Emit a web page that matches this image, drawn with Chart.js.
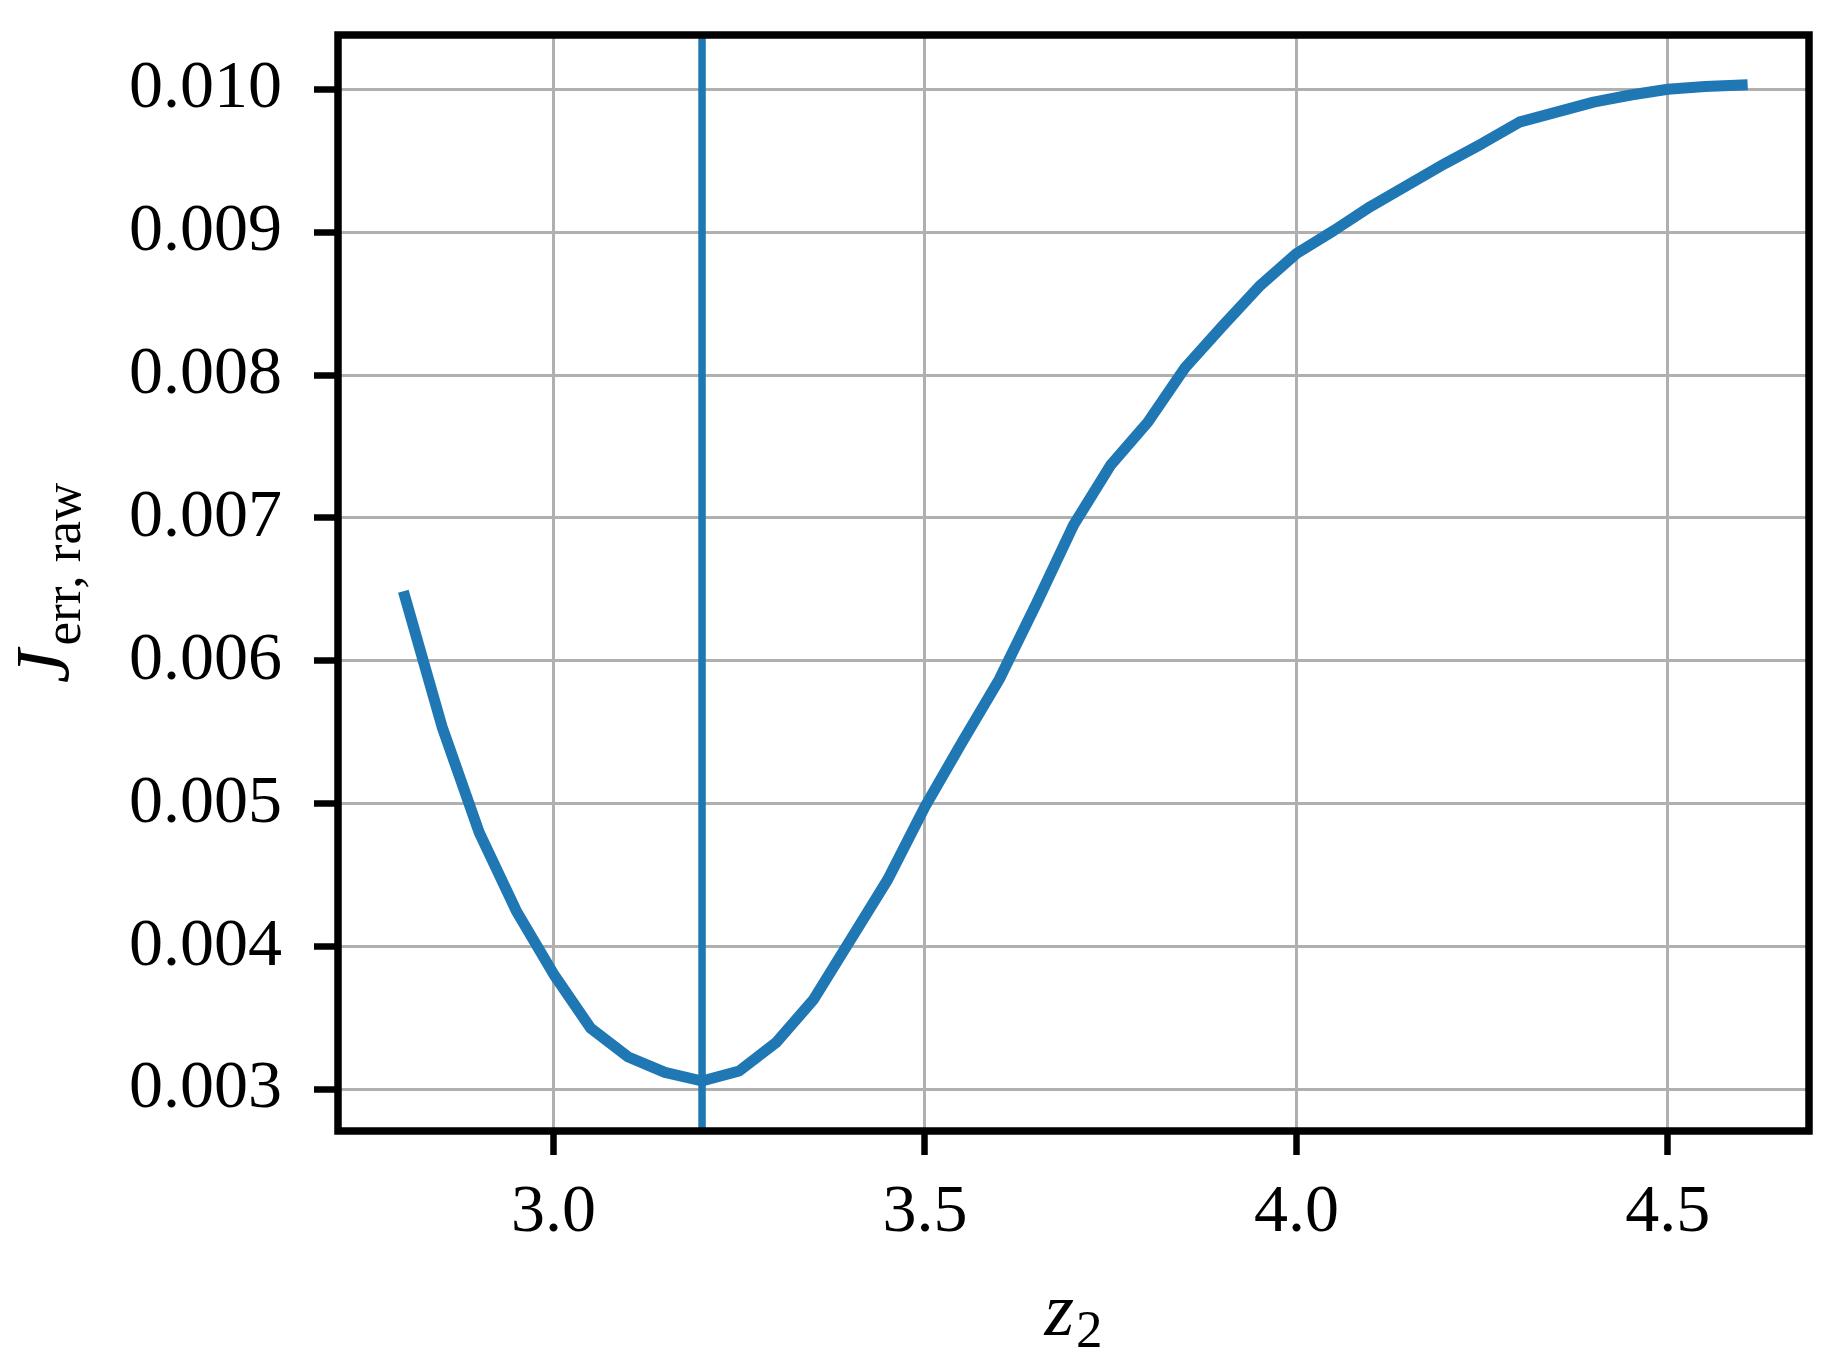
<!DOCTYPE html>
<html>
<head>
<meta charset="utf-8">
<script src="https://cdn.jsdelivr.net/npm/chart.js@4.4.1/dist/chart.umd.min.js"></script>
<style>
  html, body { margin: 0; padding: 0; background: #ffffff; overflow: hidden; }
  canvas { display: block; }
</style>
</head>
<body>
<canvas id="chart" width="1842" height="1360"></canvas>
<script>
// ---- data ----
const z2Values = [2.80, 2.85, 2.90, 2.95, 3.00, 3.05, 3.10, 3.15, 3.20, 3.25,
                  3.30, 3.35, 3.40, 3.45, 3.50, 3.55, 3.60, 3.65, 3.70, 3.75,
                  3.80, 3.85, 3.90, 3.95, 4.00, 4.05, 4.10, 4.15, 4.20, 4.25,
                  4.30, 4.35, 4.40, 4.45, 4.50, 4.55, 4.60];
const jErrRaw = [0.00645, 0.00554, 0.00480, 0.00425, 0.00381, 0.00343, 0.00323, 0.00312, 0.00306, 0.00313,
                 0.00333, 0.00363, 0.00405, 0.00447, 0.00498, 0.00543, 0.00587, 0.00640, 0.00695, 0.00737,
                 0.00767, 0.00805, 0.00834, 0.00862, 0.00885, 0.00901, 0.00918, 0.00933, 0.00948, 0.00962,
                 0.00977, 0.00984, 0.00991, 0.00996, 0.01000, 0.01002, 0.01003];
const minimumZ2 = 3.2;
const xTickValues = [3.0, 3.5, 4.0, 4.5];
const yTickValues = [0.003, 0.004, 0.005, 0.006, 0.007, 0.008, 0.009, 0.010];
const xTitleMain = 'z', xTitleSub = '2';
const yTitleMain = 'J', yTitleSub = 'err, raw';
const xLimits = [2.71, 4.69];
const yLimits = [0.00271, 0.01038];

// ---- styles ----
const BLUE = '#1f77b4';
const FONT = '"Liberation Serif", "Times New Roman", serif';

const curvePoints = z2Values.map((x, i) => ({ x: x, y: jErrRaw[i] }));
const vlinePoints = [{ x: minimumZ2, y: yLimits[0] }, { x: minimumZ2, y: yLimits[1] }];

const framePlugin = {
  id: 'frame',
  afterDatasetsDraw(chart) {
    const { ctx, chartArea: a } = chart;
    ctx.save();
    ctx.strokeStyle = '#000';
    ctx.lineWidth = 7.5;
    ctx.lineJoin = 'miter';
    ctx.strokeRect(a.left, a.top, a.right - a.left, a.bottom - a.top);
    ctx.restore();
  }
};

const axisTitlePlugin = {
  id: 'axisTitles',
  afterDraw(chart) {
    const { ctx, chartArea: a } = chart;
    ctx.save();
    ctx.fillStyle = '#000';
    ctx.textBaseline = 'alphabetic';
    ctx.textAlign = 'left';
    const mainFont = 'italic 76px ' + FONT;
    const subFont = '53px ' + FONT;
    // x title
    ctx.font = mainFont; const wz = ctx.measureText(xTitleMain).width;
    ctx.font = subFont; const w2 = ctx.measureText(xTitleSub).width;
    const cx = (a.left + a.right) / 2;
    const sx = cx - (wz + 2 + w2) / 2;
    ctx.font = mainFont; ctx.fillText(xTitleMain, sx, 1335);
    ctx.font = subFont; ctx.fillText(xTitleSub, sx + wz + 2, 1347);
    // y title
    ctx.font = mainFont; const wJ = ctx.measureText(yTitleMain).width;
    ctx.font = subFont; const wS = ctx.measureText(yTitleSub).width;
    const cy = (a.top + a.bottom) / 2;
    ctx.translate(68, cy);
    ctx.rotate(-Math.PI / 2);
    const start = -(wJ + 4 + wS) / 2;
    ctx.font = mainFont; ctx.fillText(yTitleMain, start, 0);
    ctx.font = subFont; ctx.fillText(yTitleSub, start + wJ + 4, 12);
    ctx.restore();
  }
};

const gridStyle = {
  color: '#b0b0b0',
  lineWidth: 3,
  tickColor: '#000',
  tickWidth: 6.5,
  tickLength: 24,
  drawTicks: true
};

new Chart(document.getElementById('chart'), {
  type: 'scatter',
  data: {
    datasets: [
      {
        data: curvePoints,
        showLine: true,
        borderColor: BLUE,
        backgroundColor: BLUE,
        borderWidth: 11,
        borderCapStyle: 'square',
        borderJoinStyle: 'round',
        pointRadius: 0,
        tension: 0,
        order: 2
      },
      {
        data: vlinePoints,
        showLine: true,
        borderColor: BLUE,
        backgroundColor: BLUE,
        borderWidth: 7.5,
        pointRadius: 0,
        order: 1
      }
    ]
  },
  options: {
    responsive: false,
    animation: false,
    devicePixelRatio: 1,
    layout: { padding: { top: 35, right: 33, left: 0, bottom: 0 } },
    plugins: { legend: { display: false }, tooltip: { enabled: false } },
    scales: {
      x: {
        type: 'linear',
        min: xLimits[0],
        max: xLimits[1],
        afterBuildTicks: s => { s.ticks = xTickValues.map(v => ({ value: v })); },
        afterFit: s => { s.height = 229; s.paddingLeft = 0; s.paddingRight = 0; },
        border: { display: false },
        grid: gridStyle,
        ticks: {
          color: '#000',
          font: { family: FONT, size: 68 },
          padding: 17,
          maxRotation: 0,
          autoSkip: false,
          callback: v => Number(v).toFixed(1)
        }
      },
      y: {
        type: 'linear',
        min: yLimits[0],
        max: yLimits[1],
        afterBuildTicks: s => { s.ticks = yTickValues.map(v => ({ value: v })); },
        afterFit: s => { s.width = 338; s.paddingTop = 0; s.paddingBottom = 0; },
        border: { display: false },
        grid: gridStyle,
        ticks: {
          color: '#000',
          font: { family: FONT, size: 68 },
          padding: 32,
          autoSkip: false,
          callback: v => Number(v).toFixed(3)
        }
      }
    }
  },
  plugins: [framePlugin, axisTitlePlugin]
});
</script>
</body>
</html>
